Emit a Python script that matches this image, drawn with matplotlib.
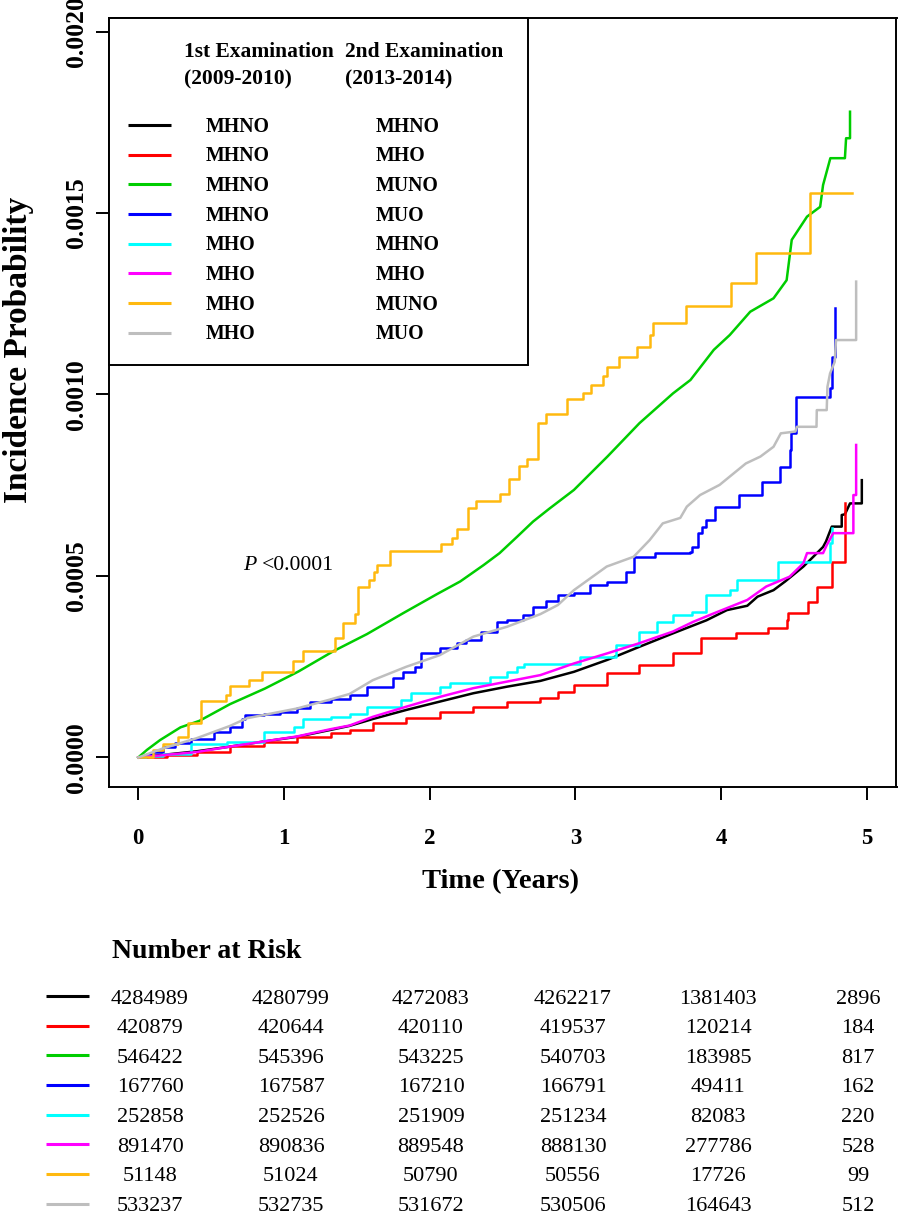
import matplotlib
matplotlib.use("Agg")
import matplotlib.pyplot as plt
from matplotlib.lines import Line2D
from matplotlib.patches import Rectangle

W, H = 898, 1214
SERIF = "Liberation Serif"

first_exam = ["MHNO", "MHNO", "MHNO", "MHNO", "MHO", "MHO", "MHO", "MHO"]
second_exam = ["MHNO", "MHO", "MUNO", "MUO", "MHNO", "MHO", "MUNO", "MUO"]
colors = ["#000000", "#FF0000", "#00CD00", "#0000FF",
          "#00FFFF", "#FF00FF", "#FFB90F", "#BEBEBE"]

# cumulative incidence curves, y in units of 1e-4
black_x = [0, 0.40, 0.63, 0.86, 1.09, 1.32, 1.45, 1.61, 1.84, 2.07, 2.30, 2.53, 2.76, 2.99,
           3.22, 3.44, 3.67, 3.90, 4.04, 4.18, 4.25, 4.36, 4.44, 4.565, 4.633, 4.70, 4.72,
           4.76, 4.828, 4.828, 4.85, 4.885, 4.966, 4.966]
black_y = [0, 0.17, 0.30, 0.44, 0.57, 0.76, 0.87, 1.06, 1.31, 1.54, 1.77, 1.95, 2.11, 2.36,
           2.69, 3.05, 3.42, 3.78, 4.06, 4.18, 4.43, 4.61, 4.85, 5.26, 5.53, 5.80, 5.95,
           6.36, 6.36, 6.68, 6.70, 7.00, 7.00, 7.64]

red_x = [0, 0.20, 0.40, 0.63, 0.86, 1.09, 1.32, 1.45, 1.61, 1.84, 2.07, 2.30, 2.53, 2.76,
         2.88, 2.99, 3.22, 3.44, 3.67, 3.86, 4.10, 4.32, 4.45, 4.46, 4.60, 4.66, 4.76, 4.85]
red_y = [0, 0.07, 0.16, 0.32, 0.44, 0.56, 0.67, 0.76, 0.94, 1.08, 1.26, 1.40, 1.54, 1.63,
         1.81, 2.00, 2.32, 2.55, 2.87, 3.28, 3.42, 3.56, 3.79, 3.97, 4.29, 4.71, 5.39, 7.00]

green_x = [0, 0.06, 0.15, 0.29, 0.42, 0.63, 0.87, 1.10, 1.34, 1.57, 1.82, 2.05, 2.21, 2.37,
           2.48, 2.60, 2.71, 2.82, 2.99, 3.22, 3.44, 3.67, 3.79, 3.95, 4.06, 4.20, 4.36,
           4.45, 4.485, 4.59, 4.68, 4.70, 4.75, 4.85, 4.858, 4.885, 4.885]
green_y = [0, 0.21, 0.48, 0.83, 1.01, 1.47, 1.90, 2.37, 2.93, 3.40, 3.98, 4.50, 4.85, 5.30,
           5.63, 6.08, 6.50, 6.85, 7.37, 8.29, 9.21, 10.03, 10.40, 11.23, 11.64, 12.28, 12.65,
           13.15, 14.26, 14.90, 15.17, 15.77, 16.51, 16.51, 17.06, 17.06, 17.79]

blue_x = [0, 0.06, 0.10, 0.17, 0.25, 0.36, 0.52, 0.63, 0.71, 0.733, 0.86, 0.97, 1.09, 1.18,
          1.32, 1.45, 1.57, 1.75, 1.82, 1.90, 1.94, 2.07, 2.19, 2.25, 2.35, 2.46, 2.53, 2.64,
          2.71, 2.80, 2.88, 2.99, 3.10, 3.22, 3.35, 3.40, 3.547, 3.787, 3.80, 3.844, 3.867,
          3.90, 3.96, 4.12, 4.28, 4.405, 4.47, 4.478, 4.515, 4.748, 4.76, 4.78]
blue_y = [0, 0.10, 0.16, 0.30, 0.40, 0.51, 0.71, 0.85, 1.05, 1.17, 1.20, 1.26, 1.35, 1.54,
          1.60, 1.72, 1.95, 2.20, 2.36, 2.50, 2.87, 3.01, 3.15, 3.24, 3.47, 3.74, 3.79, 3.93,
          4.15, 4.30, 4.48, 4.52, 4.75, 4.84, 5.12, 5.53, 5.63, 5.67, 5.81, 6.18, 6.36,
          6.54, 6.91, 7.23, 7.58, 8.00, 8.47, 8.93, 9.94, 10.17, 11.04, 12.37]

cyan_x = [0, 0.05, 0.17, 0.36, 0.61, 0.86, 1.07, 1.13, 1.32, 1.45, 1.57, 1.80, 1.87, 2.07,
          2.14, 2.415, 2.53, 2.60, 2.645, 3.03, 3.28, 3.44, 3.56, 3.67, 3.80, 3.90, 4.06,
          4.11, 4.39, 4.75, 4.76]
cyan_y = [0, 0.05, 0.09, 0.37, 0.44, 0.69, 0.83, 1.05, 1.12, 1.20, 1.40, 1.58, 1.77, 1.95,
          2.04, 2.23, 2.36, 2.50, 2.58, 2.78, 3.10, 3.47, 3.74, 3.93, 4.02, 4.48, 4.61,
          4.89, 5.39, 5.90, 6.33]

magenta_x = [0, 0.40, 0.63, 0.86, 1.09, 1.32, 1.45, 1.61, 1.84, 2.07, 2.30, 2.53, 2.76, 2.99,
             3.22, 3.44, 3.67, 3.81, 3.95, 4.18, 4.31, 4.47, 4.565, 4.59, 4.70, 4.725, 4.77,
             4.908, 4.908, 4.927, 4.927]
magenta_y = [0, 0.15, 0.30, 0.44, 0.58, 0.78, 0.88, 1.12, 1.40, 1.67, 1.91, 2.09, 2.27, 2.59,
             2.87, 3.15, 3.47, 3.74, 3.97, 4.34, 4.71, 4.98, 5.35, 5.63, 5.63, 5.85, 6.18,
             6.18, 7.23, 7.23, 8.61]

orange_x = [0, 0.104, 0.172, 0.271, 0.344, 0.43, 0.60, 0.63, 0.76, 0.852, 1.06, 1.133, 1.35,
            1.405, 1.49, 1.51, 1.585, 1.62, 1.637, 1.728, 2.075, 2.155, 2.19, 2.262, 2.318,
            2.483, 2.547, 2.616, 2.666, 2.746, 2.80, 2.94, 3.05, 3.11, 3.19, 3.215, 3.30,
            3.42, 3.51, 3.53, 3.76, 4.067, 4.24, 4.61, 4.897]
orange_y = [0, 0.21, 0.37, 0.57, 0.94, 1.56, 1.73, 1.96, 2.14, 2.35, 2.65, 2.92, 3.30,
            3.70, 3.95, 4.71, 4.89, 5.12, 5.29, 5.68, 5.87, 6.06, 6.30, 6.86, 7.07,
            7.25, 7.66, 8.03, 8.23, 9.21, 9.45, 9.88, 10.05, 10.26, 10.51, 10.77, 11.04,
            11.32, 11.64, 11.98, 12.43, 13.07, 13.90, 15.56, 15.56]

grey_x = [0, 0.17, 0.40, 0.63, 0.745, 0.86, 1.09, 1.32, 1.45, 1.61, 1.84, 2.07, 2.30, 2.53,
          2.76, 2.88, 2.99, 3.215, 3.40, 3.51, 3.60, 3.72, 3.765, 3.856, 3.99, 4.06, 4.17,
          4.27, 4.36, 4.41, 4.51, 4.52, 4.655, 4.657, 4.725, 4.73, 4.748, 4.78, 4.789,
          4.927, 4.927]
grey_y = [0, 0.25, 0.53, 0.87, 1.08, 1.17, 1.35, 1.60, 1.75, 2.13, 2.50, 2.82, 3.33, 3.60,
          3.95, 4.20, 4.61, 5.26, 5.53, 5.99, 6.45, 6.60, 6.91, 7.23, 7.51, 7.74, 8.10,
          8.29, 8.56, 8.93, 8.98, 9.11, 9.11, 9.57, 9.57, 10.21, 10.58, 10.90, 11.50,
          11.50, 13.11]

# number at risk
risk_times = [0, 1, 2, 3, 4, 5]
risk_mhno_mhno = [4284989, 4280799, 4272083, 4262217, 1381403, 2896]
risk_mhno_mho = [420879, 420644, 420110, 419537, 120214, 184]
risk_mhno_muno = [546422, 545396, 543225, 540703, 183985, 817]
risk_mhno_muo = [167760, 167587, 167210, 166791, 49411, 162]
risk_mho_mhno = [252858, 252526, 251909, 251234, 82083, 220]
risk_mho_mho = [891470, 890836, 889548, 888130, 277786, 528]
risk_mho_muno = [51148, 51024, 50790, 50556, 17726, 99]
risk_mho_muo = [533237, 532735, 531672, 530506, 164643, 512]

y_ticks = [0, 0.0005, 0.001, 0.0015, 0.002]
y_ticklabels = ["0.0000", "0.0005", "0.0010", "0.0015", "0.0020"]


def main():
    curves = [
        (black_x, black_y, False),
        (red_x, red_y, True),
        (green_x, green_y, False),
        (blue_x, blue_y, True),
        (cyan_x, cyan_y, True),
        (magenta_x, magenta_y, False),
        (orange_x, orange_y, True),
        (grey_x, grey_y, False),
    ]
    risk = [risk_mhno_mhno, risk_mhno_mho, risk_mhno_muno, risk_mhno_muo,
            risk_mho_mhno, risk_mho_mho, risk_mho_muno, risk_mho_muo]

    fig = plt.figure(figsize=(W / 100, H / 100), dpi=100)

    def text(px, py, s, size, weight="normal", ha="left", style="normal"):
        fig.text(px / W, 1 - py / H, s, ha=ha, va="baseline", fontsize=size,
                 fontweight=weight, fontstyle=style, family=SERIF)

    def hline(x0, x1, py, color, lw=2.2):
        fig.add_artist(Line2D([x0 / W, x1 / W], [1 - py / H, 1 - py / H],
                              transform=fig.transFigure, color=color, lw=lw,
                              solid_capstyle="butt"))

    ax = fig.add_axes([108.5 / W, 1 - 787 / H, 788 / W, 769 / H])
    for (xs, ys, step), c in zip(curves, colors):
        ax.plot(xs, [v * 1e-4 for v in ys], color=c, lw=1.8,
                drawstyle="steps-post" if step else "default")

    ax.set_xlim(-0.204, 5.204)
    ax.set_ylim(-0.0000813, 0.0020372)
    ax.set_xticks(risk_times)
    ax.set_xticklabels([str(t) for t in risk_times], fontsize=16.5,
                       fontweight="bold", family=SERIF)
    ax.set_yticks(y_ticks)
    ax.set_yticklabels(y_ticklabels, rotation=90, va="center", fontsize=18.5,
                       fontweight="bold", family=SERIF)
    ax.tick_params(axis="x", length=9.4, width=1.4, pad=20)
    ax.tick_params(axis="y", length=9.4, width=1.4, pad=5)
    for s in ax.spines.values():
        s.set_linewidth(1.4)

    # axis titles
    text(500, 888, "Time (Years)", 20.5, "bold", ha="center")
    fig.text(27 / W, 1 - 350 / H, "Incidence Probability", rotation=90,
             rotation_mode="anchor", ha="center", va="baseline", fontsize=24,
             fontweight="bold", family=SERIF)

    text(243, 570, "P", 15.7, style="italic")
    text(262, 570, "<0.0001", 15.7)

    # legend box
    fig.add_artist(Rectangle((108.5 / W, 1 - 365 / H), 419 / W, 347 / H,
                             transform=fig.transFigure, facecolor="white",
                             edgecolor="black", lw=1.4))
    text(184, 57, "1st Examination", 15.5, "bold")
    text(184, 84, "(2009-2010)", 15.5, "bold")
    text(345, 57, "2nd Examination", 15.5, "bold")
    text(345, 84, "(2013-2014)", 15.5, "bold")
    for i, (a, b, c) in enumerate(zip(first_exam, second_exam, colors)):
        yc = 125 + i * 29.65
        hline(128.4, 171, yc, c)
        text(206, yc + 6.6, a, 14.3, "bold")
        text(376, yc + 6.6, b, 14.3, "bold")

    # number at risk table
    text(112, 958, "Number at Risk", 20, "bold")
    col_x = [150, 291, 431, 573, 718, 858]
    for i, (row, c) in enumerate(zip(risk, colors)):
        yc = 996 + i * 29.65
        hline(45.8, 88.8, yc, c)
        for cx, n in zip(col_x, row):
            text(cx, yc + 7.5, str(n), 16, ha="center")

    fig.savefig("out.png", dpi=100)
    plt.close(fig)


if __name__ == "__main__":
    main()
